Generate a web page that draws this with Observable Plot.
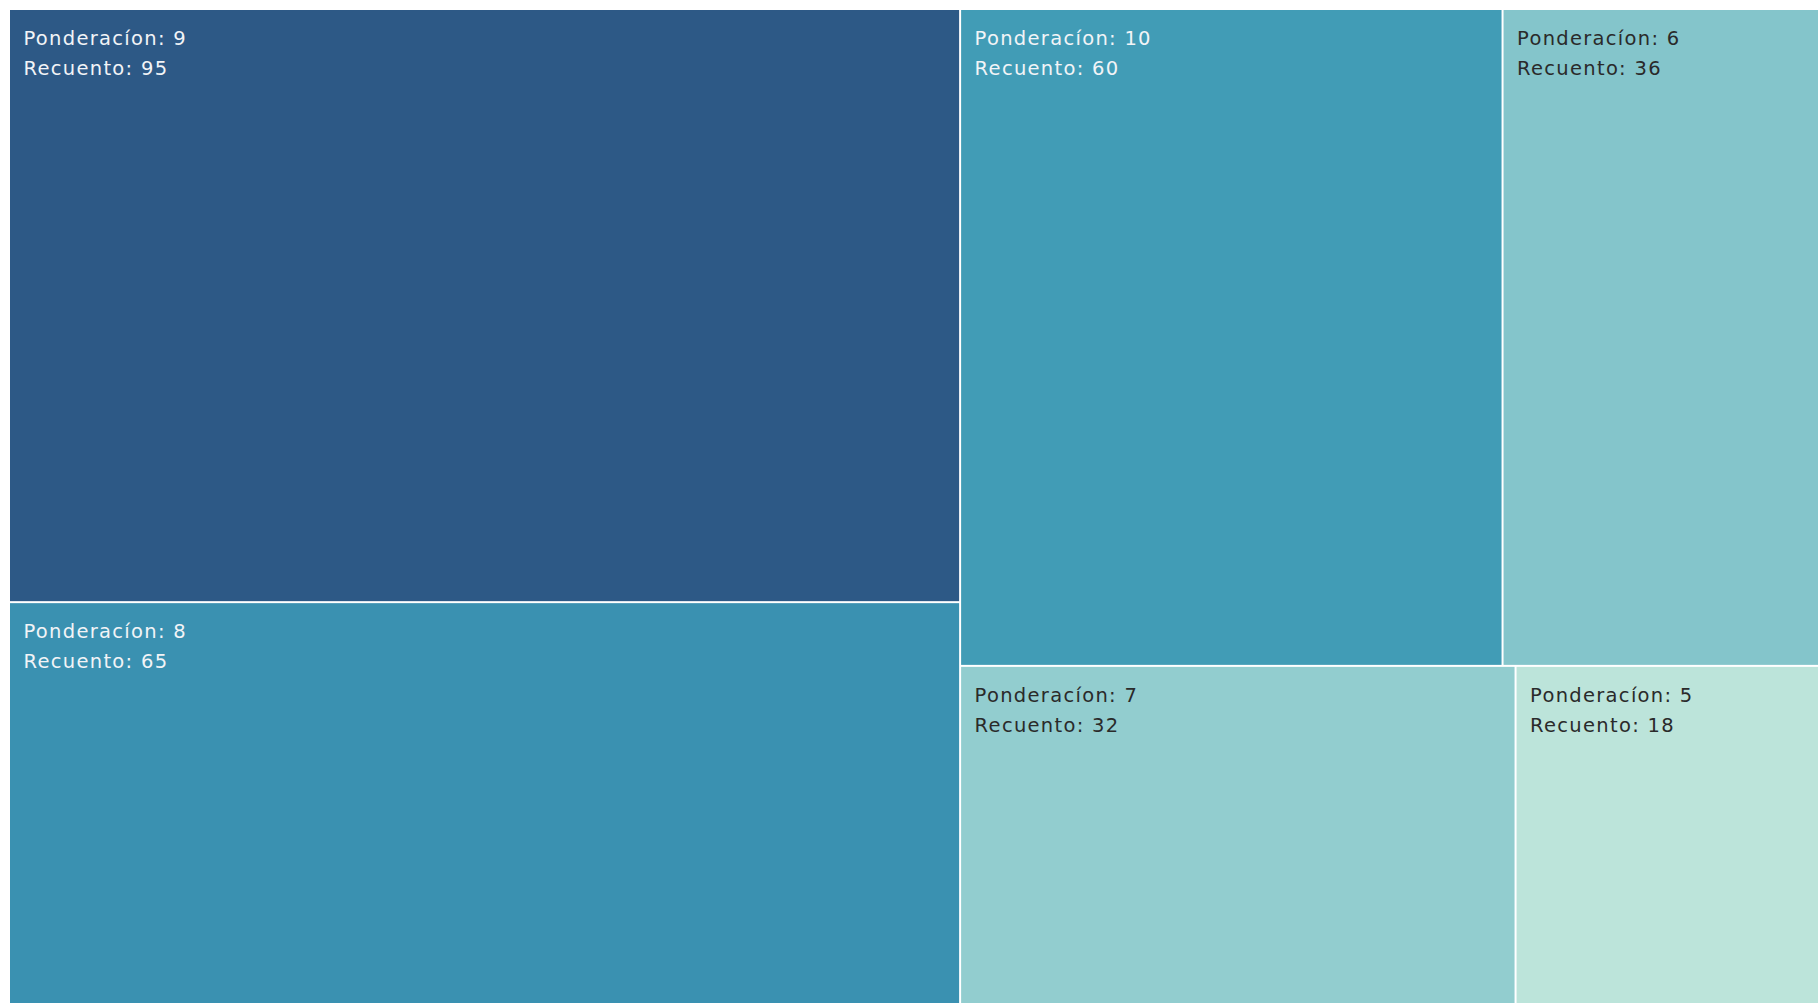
<!DOCTYPE html>
<html>
<head>
<meta charset="utf-8">
<script src="https://cdn.jsdelivr.net/npm/d3@7"></script>
<script src="https://cdn.jsdelivr.net/npm/@observablehq/plot@0.6"></script>
<style>
  html, body { margin: 0; padding: 0; background: #fff; overflow: hidden; }
  #chart svg { display: block; }
  #chart text { letter-spacing: 1.3px; }
</style>
</head>
<body>
<div id="chart"></div>
<script>
// Data
const ponderacion = [9, 8, 10, 6, 7, 5];
const recuento    = [95, 65, 60, 36, 32, 18];
// grouping of cells (column group, row within column group)
const grupo  = ["A", "A", "B", "B", "B", "B"];
const fila   = ["A9", "A8", "B1", "B1", "B2", "B2"];
const colores = ["#2d5986", "#3a91b1", "#419cb6", "#84c5cb", "#92cdcf", "#bce4da"];

const W = 1818, H = 1003;
const TW = 1819, TH = 999; // treemap extends slightly past the window

// build hierarchy
const items = ponderacion.map((p, i) => ({p, n: recuento[i], g: grupo[i], f: fila[i]}));
const nested = {
  name: "root",
  children: Array.from(d3.group(items, d => d.g), ([g, arr]) => {
    if (g === "A") return {name: g, children: arr.map(d => ({...d}))};
    return {name: g, children: Array.from(d3.group(arr, d => d.f), ([f, a]) => ({name: f, children: a.map(d => ({...d}))}))};
  })
};
const root = d3.hierarchy(nested).sum(d => d.n || 0);
d3.treemap().tile(d3.treemapSliceDice).size([TW, TH]).round(false)(root);
const leaves = root.leaves().map(l => ({
  x0: l.x0, x1: l.x1, y0: l.y0, y1: l.y1,
  p: l.data.p, n: l.data.n,
  label: `Ponderacíon: ${l.data.p}\nRecuento: ${l.data.n}`
}));

const chart = Plot.plot({
  width: W,
  height: H,
  marginLeft: 9,
  marginTop: 9,
  marginRight: 0,
  marginBottom: 0,
  x: {domain: [0, W - 9], axis: null},
  y: {domain: [0, H - 9], axis: null, reverse: true},
  color: {type: "ordinal", domain: recuento, range: colores},
  style: {background: "white", fontFamily: "DejaVu Sans, sans-serif"},
  marks: [
    Plot.rect(leaves, {x1: "x0", x2: "x1", y1: "y0", y2: "y1", fill: "n", inset: 1}),
    Plot.text(leaves, {
      x: "x0", y: "y0", text: "label",
      textAnchor: "start", lineAnchor: "top",
      dx: 14, dy: 14, fontSize: 19.5, lineHeight: 1.55,
      fill: d => d.n > 50 ? "#f2f4f7" : "#2a2a2a"
    })
  ]
});
document.getElementById("chart").appendChild(chart);
</script>
</body>
</html>
